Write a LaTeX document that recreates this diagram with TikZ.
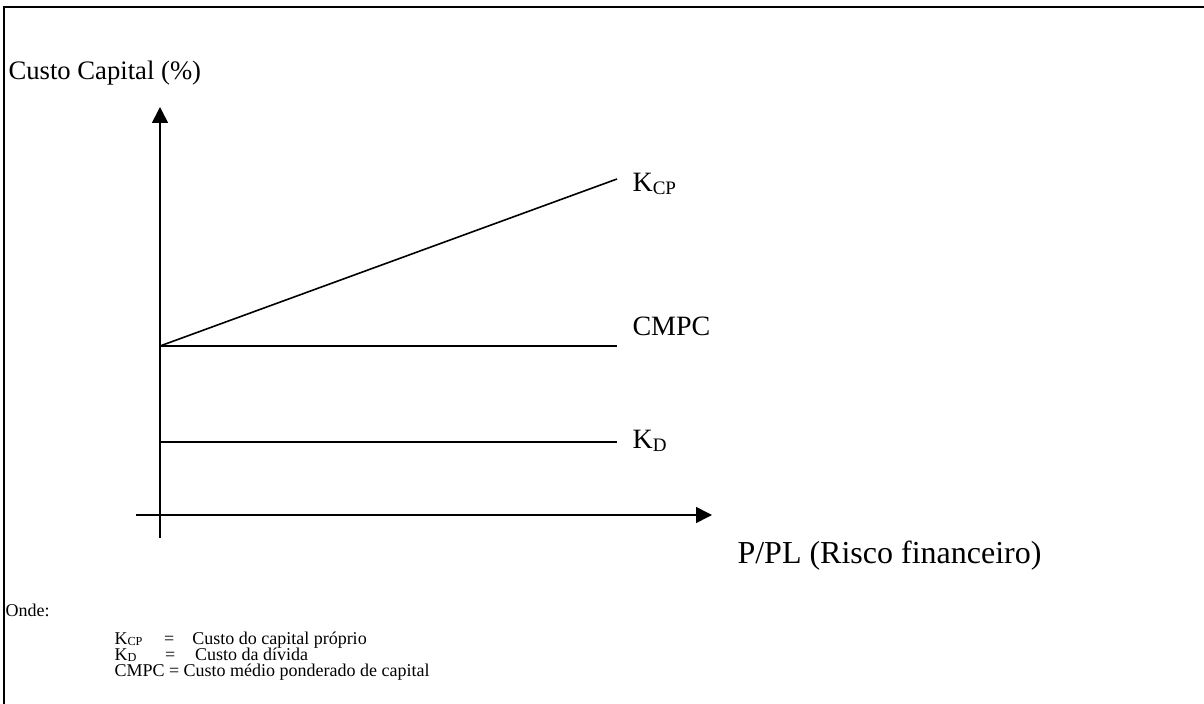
\documentclass[tikz,border=0pt]{standalone}
\usepackage{fontspec}
\setmainfont{Liberation Serif}
\usetikzlibrary{arrows.meta,positioning}
\newcommand{\ind}[1]{\raisebox{-0.1em}{\scalebox{0.68}{#1}}}
\tikzset{%
frame/.style={draw=black, line width=0.75pt},
axis/.style={draw=black, line width=0.6pt,-{Triangle[length=6pt,width=6pt]}},
curve/.style={draw=black, line width=0.6pt,-},
lbl/.style={inner sep=0pt, anchor=base west, font=\fontsize{10.5pt}{12pt}\selectfont},
leg/.style={inner sep=0pt, anchor=base west, font=\fontsize{6.75pt}{8pt}\selectfont}
}

\begin{document}
\begin{tikzpicture}[x=0.375pt,y=-0.375pt]
		\useasboundingbox (0,0) rectangle (1204,704);
		\draw[frame] (3.5,704) -- (3.5,7.5) -- (1204,7.5);
		
		\coordinate (ybot) at (160,538);
		\coordinate (ytop) at (160,107);
		\coordinate (xleft) at (136,515);
		\coordinate (xright) at (712,515);
		\coordinate (origem) at (160,346);
		\coordinate (kcpend) at (617,179);
		\coordinate (cmpcend) at (617,346);
		\coordinate (kdstart) at (160,442);
		\coordinate (kdend) at (617,442);
		
		\draw[axis] (ybot) -- (ytop);
		\draw[axis] (xleft) -- (xright);
		
		\draw[curve] (origem) -- (kcpend);
		\draw[curve] (origem) -- (cmpcend);
		\draw[curve] (kdstart) -- (kdend);
		
		\node[lbl, font=\fontsize{10pt}{12pt}\selectfont] (custo) at (8,80) {Custo Capital (\%)};
		\node[lbl] (kcp) at (632,192) {K\ind{CP}};
		\node[lbl] (cmpc) at (632,336) {CMPC};
		\node[lbl] (kd) at (632,449) {K\ind{D}};
		\node[lbl, font=\fontsize{12pt}{14pt}\selectfont] (risco) at (737,563) {P/PL (Risco financeiro)};
		
		\node[leg] (onde) at (5,616) {Onde:};
		\node[leg] (legkcp) at (114,644) {K\ind{CP}\hspace{1.2em}=\hspace{1em}Custo do capital próprio};
		\node[leg] (legkd) at (114,660) {K\ind{D}\hspace{1.6em}=\hspace{1.1em}Custo da dívida};
		\node[leg] (legcmpc) at (114,676) {CMPC = Custo médio ponderado de capital};
	\end{tikzpicture}
\end{document}
